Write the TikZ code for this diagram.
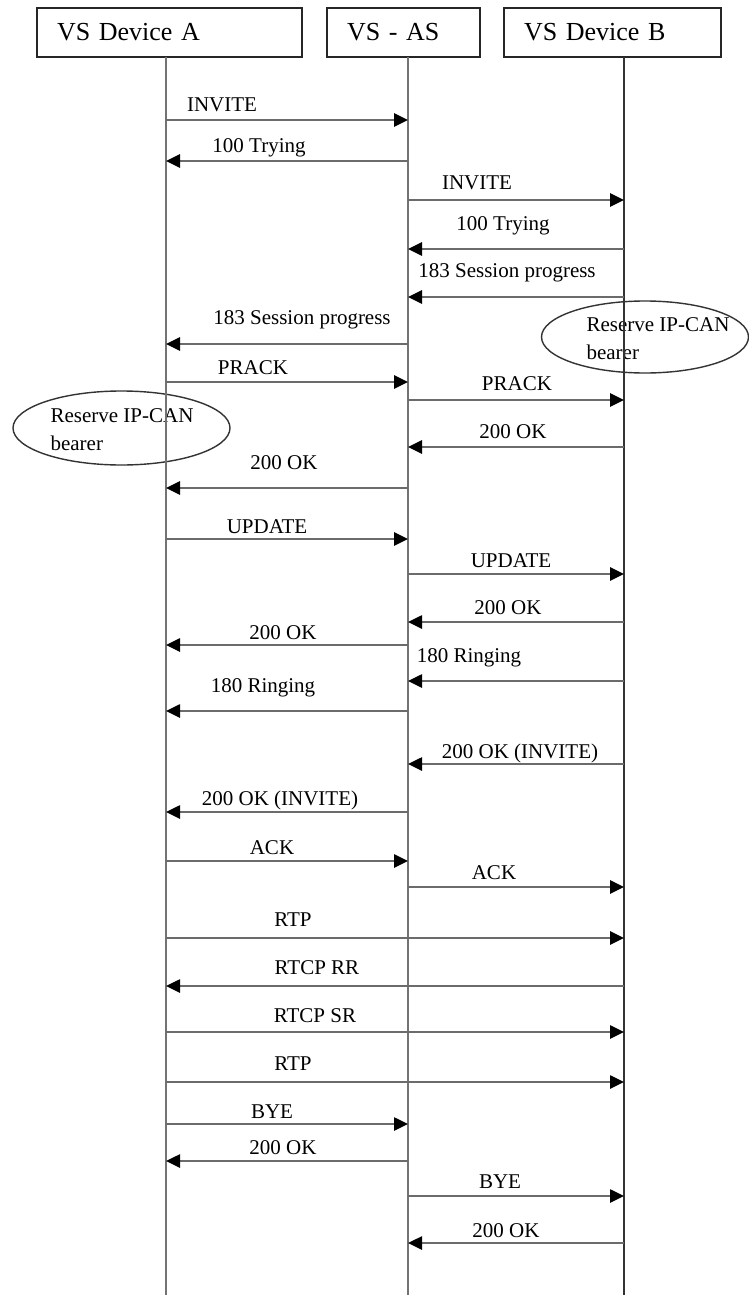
\documentclass[tikz,border=0pt]{standalone}
\usepackage{fontspec}
\setmainfont{Liberation Serif}
\usetikzlibrary{arrows.meta,shapes.geometric}
\newcommand\sqmsg[7]{%
  \path (#2 |- 0,#4) coordinate (#1s) (#3 |- 0,#4) coordinate (#1e);
  \draw[msg] (#1s) -- (#1e);
  \node[lbl] (#1l) at (#5,#6) {#7};}
\begin{document}
\begin{tikzpicture}[x=1pt,y=-1pt,
  hdr/.style={draw, line width=1.8pt, black!85, text=black, minimum height=49pt, inner xsep=20pt, inner ysep=0pt, align=left, font=\fontsize{26}{30}\selectfont},
  life/.style={line width=2.8pt, black!55},
  msg/.style={line width=2.6pt, black!58, -{Triangle[length=14pt,width=13pt,color=black]}},
  lbl/.style={font=\fontsize{21}{24}\selectfont, inner sep=0pt},
  bubble/.style={draw, ellipse, line width=1.4pt, black!80, inner sep=0pt},
  btext/.style={font=\fontsize{21}{28}\selectfont, align=left, inner sep=0pt}]
\useasboundingbox (0,0) rectangle (749,1295);
\fill[white] (0,0) rectangle (749,1295);

% header boxes
\node[hdr, text width=225pt] (A) at (169.5,32.5) {VS Device A};
\node[hdr, text width=113pt] (S) at (403.5,32.5) {VS - AS};
\node[hdr, text width=177pt] (B) at (612.5,32.5) {VS Device B};

% ellipses
\node[bubble, minimum width=217pt, minimum height=74pt] (e1) at (121.5,428) {};
\node[btext] (e1t) at (122,430) {Reserve IP-CAN\\bearer};
\node[bubble, minimum width=207pt, minimum height=72pt] (e2) at (645,337) {};
\node[btext] (e2t) at (658,339) {Reserve IP-CAN\\bearer};

% lifelines
\coordinate (a) at (166,57);  \coordinate (aE) at (166,1295);
\coordinate (s) at (408,57);  \coordinate (sE) at (408,1295);
\coordinate (b) at (624,57);  \coordinate (bE) at (624,1295);
\draw[life] (a) -- (aE);
\draw[life] (s) -- (sE);
\draw[life, black!80, line width=2.2pt] (b) -- (bE);

% messages
\sqmsg{m1}{a}{s}{120}{222}{105}{INVITE}
\sqmsg{m2}{s}{a}{161}{259}{148}{100 Trying}
\sqmsg{m3}{s}{b}{200}{477}{183}{INVITE}
\sqmsg{m4}{b}{s}{249}{503}{226}{100 Trying}
\sqmsg{m5}{b}{s}{297}{507}{273}{183 Session progress}
\sqmsg{m6}{s}{a}{344}{302}{320}{183 Session progress}
\sqmsg{m7}{a}{s}{382}{253}{368}{PRACK}
\sqmsg{m8}{s}{b}{400}{517}{384}{PRACK}
\sqmsg{m9}{b}{s}{447}{513}{432}{200 OK}
\sqmsg{m10}{s}{a}{488}{284}{463}{200 OK}
\sqmsg{m11}{a}{s}{539}{267}{527}{UPDATE}
\sqmsg{m12}{s}{b}{574}{511}{561}{UPDATE}
\sqmsg{m13}{b}{s}{622}{508}{608}{200 OK}
\sqmsg{m14}{s}{a}{645}{283}{633}{200 OK}
\sqmsg{m15}{b}{s}{681}{469}{658}{180 Ringing}
\sqmsg{m16}{s}{a}{711}{263}{688}{180 Ringing}
\sqmsg{m17}{b}{s}{764}{520}{753}{200 OK (INVITE)}
\sqmsg{m18}{s}{a}{812}{280}{800}{200 OK (INVITE)}
\sqmsg{m19}{a}{s}{861}{272}{848}{ACK}
\sqmsg{m20}{s}{b}{887}{494}{873}{ACK}
\sqmsg{m21}{a}{b}{938}{293}{920}{RTP}
\sqmsg{m22}{b}{a}{986}{317}{968}{RTCP RR}
\sqmsg{m23}{a}{b}{1032}{315}{1016}{RTCP SR}
\sqmsg{m24}{a}{b}{1082}{293}{1064}{RTP}
\sqmsg{m25}{a}{s}{1124}{272}{1112}{BYE}
\sqmsg{m26}{s}{a}{1161}{283}{1148}{200 OK}
\sqmsg{m27}{s}{b}{1196}{500}{1182}{BYE}
\sqmsg{m28}{b}{s}{1243}{506}{1231}{200 OK}
\end{tikzpicture}
\end{document}
